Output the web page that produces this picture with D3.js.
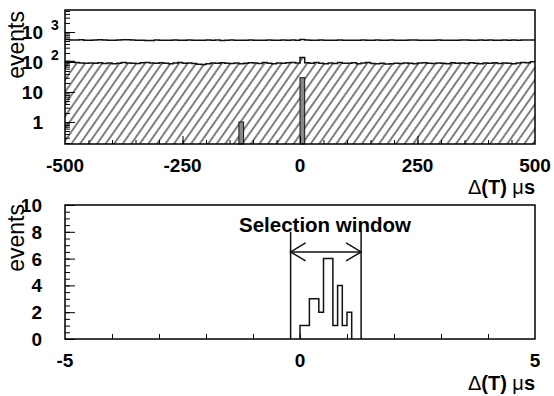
<!DOCTYPE html>
<html>
<head>
<meta charset="utf-8">
<script src="https://cdn.jsdelivr.net/npm/d3@7"></script>
<style>
body { margin: 0; background: #fff; }
text { font-family: "Liberation Sans", Arial, Helvetica, sans-serif; fill: #000; }
</style>
</head>
<body>
<svg id="chart" width="554" height="396"></svg>
<script>
// top panel: 10 us bins from -500 to 500
var topBinStart = -500;
var topBinWidth = 10;
var totalCounts = [
    560, 545, 540, 548, 535, 530, 542, 550, 538, 535,
    528, 540, 556, 548, 540, 532, 528, 520, 524, 536,
    530, 526, 535, 542, 528, 533, 538, 530, 527, 534,
    540, 529, 536, 524, 530, 538, 532, 527, 535, 540,
    528, 533, 530, 537, 526, 534, 539, 530, 545, 530,
    560, 540, 535, 528, 536, 532, 526, 530, 538, 535,
    530, 528, 534, 540, 529, 532, 536, 527, 533, 538,
    530, 526, 532, 538, 541, 535, 528, 533, 530, 537,
    531, 535, 528, 532, 540, 536, 530, 534, 538, 532,
    536, 530, 535, 540, 533, 537, 532, 538, 541, 545
];
var selectedCounts = [
    105, 104, 96, 92, 90, 93, 91, 94, 89, 92,
    88, 90, 97, 93, 91, 89, 94, 96, 92, 90,
    95, 91, 88, 93, 96, 90, 92, 89, 84, 83,
    88, 92, 90, 94, 91, 89, 93, 87, 90, 95,
    92, 89, 96, 90, 88, 93, 91, 94, 97, 92,
    140, 95, 90, 96, 91, 88, 93, 89, 97, 91,
    90, 95, 88, 92, 96, 89, 87, 90, 85, 88,
    91, 89, 93, 90, 88, 92, 95, 90, 89, 93,
    91, 88, 94, 90, 92, 89, 95, 91, 88, 92,
    90, 94, 89, 93, 91, 88, 92, 96, 95, 102
];
// coincidence bars (bin low edge, count)
var peakBins = [-130, 0];
var peakCounts = [1, 30];

var topXTickLabels = [-500, -250, 0, 250, 500];
var topYTickLabels = [1, 10, 100, 1000];

// bottom panel: 0.1 us bins
var zoomBinEdges = [0.0, 0.1, 0.2, 0.3, 0.4, 0.5, 0.6, 0.7, 0.8, 0.9, 1.0];
var zoomCounts = [1, 1, 3, 3, 2, 6, 6, 1, 4, 1, 2];
var zoomBinWidth = 0.1;
var windowEdges = [-0.2, 1.3];
var bottomXTickLabels = [-5, 0, 5];
var bottomYTickLabels = [0, 2, 4, 6, 8, 10];

var svg = d3.select('#chart');
var left = 65, right = 535;
var labelSize = 19;

var defs = svg.append('defs');
var hatch = defs.append('pattern').attr('id', 'hatch')
    .attr('patternUnits', 'userSpaceOnUse')
    .attr('width', 7).attr('height', 7)
    .attr('patternTransform', 'rotate(35)');
hatch.append('line').attr('x1', 1).attr('y1', 0).attr('x2', 1).attr('y2', 7)
    .attr('stroke', '#000').attr('stroke-width', 1);

// ---------- top panel ----------
var xTop = d3.scaleLinear().domain([-500, 500]).range([left, right]);
var yTop = d3.scaleLog().domain([0.185, 5400]).range([144, 10]);

var topEdges = totalCounts.map(function (d, i) { return topBinStart + i * topBinWidth; });

function stepPoints(vals) {
    var pts = vals.map(function (v, i) { return [topEdges[i], v]; });
    pts.push([500, vals[vals.length - 1]]);
    return pts;
}

var topG = svg.append('g');
var area = d3.area().curve(d3.curveStepAfter)
    .x(function (d) { return xTop(d[0]); })
    .y0(144)
    .y1(function (d) { return yTop(d[1]); });
var line = d3.line().curve(d3.curveStepAfter)
    .x(function (d) { return xTop(d[0]); })
    .y(function (d) { return yTop(d[1]); });

topG.append('path').attr('d', area(stepPoints(selectedCounts))).attr('fill', 'url(#hatch)');
topG.append('path').attr('d', line(stepPoints(selectedCounts)))
    .attr('fill', 'none').attr('stroke', '#111').attr('stroke-width', 1.5);
topG.append('path').attr('d', line(stepPoints(totalCounts)))
    .attr('fill', 'none').attr('stroke', '#111').attr('stroke-width', 1.5);

topG.selectAll('rect.peak').data(peakBins).enter().append('rect')
    .attr('class', 'peak')
    .attr('x', function (d) { return xTop(d); })
    .attr('width', xTop(topBinWidth) - xTop(0))
    .attr('y', function (d, i) { return yTop(peakCounts[i]); })
    .attr('height', function (d, i) { return 144 - yTop(peakCounts[i]); })
    .attr('fill', '#888').attr('stroke', '#111').attr('stroke-width', 1);

// ticks
var minorTop = d3.range(-450, 500, 50);
topG.append('g').attr('transform', 'translate(0,144)')
    .call(d3.axisBottom(xTop).tickValues(minorTop).tickSize(-4).tickFormat(''))
    .call(function (g) { g.select('.domain').remove(); });
topG.append('g').attr('transform', 'translate(0,144)')
    .call(d3.axisBottom(xTop).tickValues([-250, 0, 250]).tickSize(-8).tickFormat(''))
    .call(function (g) { g.select('.domain').remove(); });

var logMinor = [];
[-1, 0, 1, 2, 3].forEach(function (k) {
    for (var m = 2; m <= 9; m++) {
        var v = m * Math.pow(10, k);
        if (v > 0.185 && v < 5400) logMinor.push(v);
    }
});
topG.append('g').attr('transform', 'translate(' + left + ',0)')
    .call(d3.axisLeft(yTop).tickValues(logMinor).tickSize(-5).tickFormat(''))
    .call(function (g) { g.select('.domain').remove(); });
topG.append('g').attr('transform', 'translate(' + left + ',0)')
    .call(d3.axisLeft(yTop).tickValues(topYTickLabels).tickSize(-10).tickFormat(''))
    .call(function (g) { g.select('.domain').remove(); });
svg.selectAll('.tick line').attr('stroke', '#000');

topG.append('rect').attr('x', left).attr('y', 10).attr('width', right - left).attr('height', 134)
    .attr('fill', 'none').attr('stroke', '#000').attr('stroke-width', 1.5);

topG.selectAll('text.xl').data(topXTickLabels).enter().append('text')
    .attr('x', function (d) { return xTop(d); }).attr('y', 172)
    .attr('text-anchor', 'middle').attr('font-size', labelSize).attr('font-weight', 'bold')
    .text(function (d) { return d; });

topYTickLabels.forEach(function (v) {
    var y = yTop(v) + 7;
    var t = topG.append('text').attr('x', 43).attr('y', y)
        .attr('text-anchor', 'end').attr('font-size', labelSize).attr('font-weight', 'bold');
    if (v < 100) {
        t.text(v);
    } else {
        t.text('10');
        topG.append('text').attr('x', 51).attr('y', y - 9)
            .attr('font-size', 14).attr('font-weight', 'bold')
            .text(Math.round(Math.log10(v)));
    }
});

function axisTitle(y) {
    var t = svg.append('text').attr('x', right).attr('y', y).attr('text-anchor', 'end')
        .attr('font-size', 20);
    t.append('tspan').text('\u0394');
    t.append('tspan').attr('font-weight', 'bold').text('(T) ');
    t.append('tspan').text('\u03bc');
    t.append('tspan').attr('font-weight', 'bold').text('s');
}
axisTitle(194);

svg.append('text').attr('transform', 'translate(24,11) rotate(-90)')
    .attr('text-anchor', 'end').attr('font-size', 23).text('events');

// ---------- bottom panel ----------
var xBot = d3.scaleLinear().domain([-5, 5]).range([left, right]);
var yBot = d3.scaleLinear().domain([0, 10]).range([339, 205]);
var botG = svg.append('g');

botG.append('g').attr('transform', 'translate(0,339)')
    .call(d3.axisBottom(xBot).tickValues(d3.range(-4, 5, 1)).tickSize(-5).tickFormat(''))
    .call(function (g) { g.select('.domain').remove(); });
botG.append('g').attr('transform', 'translate(' + left + ',0)')
    .call(d3.axisLeft(yBot).tickValues(d3.range(0.5, 10, 0.5)).tickSize(-5).tickFormat(''))
    .call(function (g) { g.select('.domain').remove(); });
botG.append('g').attr('transform', 'translate(' + left + ',0)')
    .call(d3.axisLeft(yBot).tickValues(bottomYTickLabels).tickSize(-10).tickFormat(''))
    .call(function (g) { g.select('.domain').remove(); });
svg.selectAll('.tick line').attr('stroke', '#000');

var histPts = [[0, 0]];
zoomBinEdges.forEach(function (e, i) { histPts.push([e, zoomCounts[i]]); });
histPts.push([zoomBinEdges[zoomBinEdges.length - 1] + zoomBinWidth, 0]);
var botLine = d3.line().curve(d3.curveStepAfter)
    .x(function (d) { return xBot(d[0]); })
    .y(function (d) { return yBot(d[1]); });
botG.append('path').attr('d', botLine(histPts))
    .attr('fill', 'none').attr('stroke', '#111').attr('stroke-width', 1.5);

// selection window
var winTop = 8, arrowY = 6.5;
windowEdges.forEach(function (w) {
    botG.append('line').attr('x1', xBot(w)).attr('x2', xBot(w))
        .attr('y1', yBot(0)).attr('y2', yBot(winTop))
        .attr('stroke', '#111').attr('stroke-width', 1.5);
});
var ax0 = xBot(windowEdges[0]), ax1 = xBot(windowEdges[1]), ay = yBot(arrowY);
botG.append('line').attr('x1', ax0).attr('x2', ax1).attr('y1', ay).attr('y2', ay)
    .attr('stroke', '#111').attr('stroke-width', 1.5);
botG.append('path')
    .attr('d', 'M' + (ax0 + 15) + ',' + (ay - 9) + 'L' + ax0 + ',' + ay + 'L' + (ax0 + 15) + ',' + (ay + 9) +
        'M' + (ax1 - 15) + ',' + (ay - 9) + 'L' + ax1 + ',' + ay + 'L' + (ax1 - 15) + ',' + (ay + 9))
    .attr('fill', 'none').attr('stroke', '#111').attr('stroke-width', 1.5);
botG.append('text').attr('x', 239).attr('y', 232).attr('font-size', 20.5).attr('font-weight', 'bold')
    .text('Selection window');

botG.append('rect').attr('x', left).attr('y', 205).attr('width', right - left).attr('height', 134)
    .attr('fill', 'none').attr('stroke', '#000').attr('stroke-width', 1.5);

botG.selectAll('text.xl').data(bottomXTickLabels).enter().append('text')
    .attr('x', function (d) { return xBot(d); }).attr('y', 367)
    .attr('text-anchor', 'middle').attr('font-size', labelSize).attr('font-weight', 'bold')
    .text(function (d) { return d; });
botG.selectAll('text.yl').data(bottomYTickLabels).enter().append('text')
    .attr('x', 42).attr('y', function (d) { return yBot(d) + 7; })
    .attr('text-anchor', 'end').attr('font-size', labelSize).attr('font-weight', 'bold')
    .text(function (d) { return d; });

axisTitle(390);
svg.append('text').attr('transform', 'translate(24,204) rotate(-90)')
    .attr('text-anchor', 'end').attr('font-size', 23).text('events');
</script>
</body>
</html>
